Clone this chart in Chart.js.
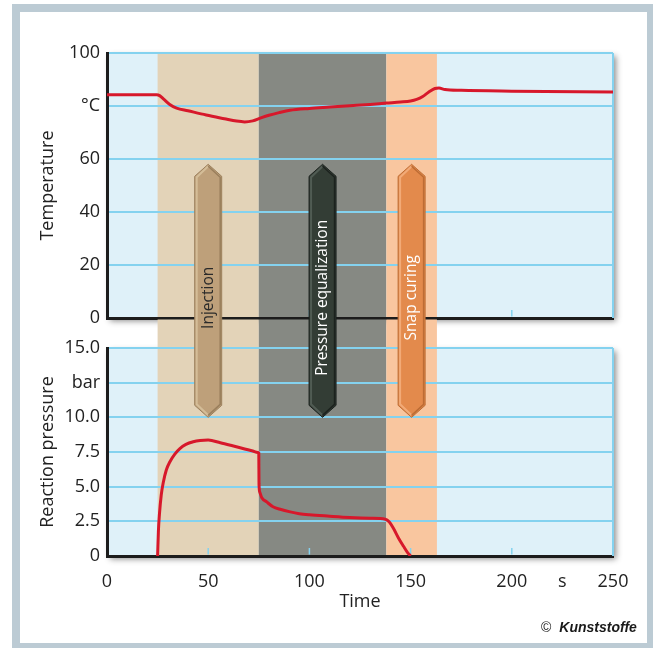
<!DOCTYPE html>
<html>
<head>
<meta charset="utf-8">
<script src="https://cdn.jsdelivr.net/npm/chart.js@4.4.1/dist/chart.umd.min.js"></script>
<style>
html,body{margin:0;padding:0;background:#fff;}
#wrap{position:relative;width:653px;height:648px;overflow:hidden;background:#fff;}
#frame{position:absolute;left:12px;top:4px;width:641px;height:644px;box-sizing:border-box;border-style:solid;border-color:#bccbd4;border-width:8px 6px 5px 8px;}
canvas{position:absolute;left:0;top:0;}
#copy{position:absolute;left:541px;top:618px;font-family:'Liberation Sans',Arial,sans-serif;font-size:14px;line-height:18px;color:#1a1a1a;white-space:nowrap;}
#copy b{font-style:italic;font-weight:bold;margin-left:8px;}
</style>
</head>
<body>
<div id="wrap">
  <div id="frame"></div>
  <canvas id="cA" width="653" height="648" style="width:653px;height:648px"></canvas>
  <canvas id="cB" width="653" height="648" style="width:653px;height:648px"></canvas>
  <div id="copy">©<b>Kunststoffe</b></div>
</div>
<script>
// ---------- data ----------
const timeTicks = [0, 50, 100, 150, 200, 225, 250];
const timeTickLabels = ['0', '50', '100', '150', '200', 's', '250'];
const tickMarkTimes = [50, 100, 150, 200];

const tempTicks = [0, 20, 40, 60, 80, 100];
const tempTickLabels = ['0', '20', '40', '60', '°C', '100'];

const pressTicks = [0, 2.5, 5, 7.5, 10, 12.5, 15];
const pressTickLabels = ['0', '2.5', '5.0', '7.5', '10.0', 'bar', '15.0'];

const tempTime = [0, 24.5, 26, 28, 31, 34.4, 40, 49, 58, 64, 68, 72, 76, 80, 85, 90.4, 100, 110, 120, 130, 138, 145, 150, 153, 156, 159, 162, 164, 167, 175, 200, 250];
const tempValues = [84.2, 84.2, 83.9, 82.6, 80.6, 79.2, 78.2, 76.6, 75.2, 74.3, 74.0, 74.4, 75.5, 76.5, 77.5, 78.4, 79.1, 79.6, 80.1, 80.6, 81.1, 81.5, 81.9, 82.5, 83.6, 85.3, 86.6, 86.8, 86.2, 85.9, 85.6, 85.3];

const pressTime = [25, 25.4, 25.9, 26.8, 27.8, 29.3, 31.1, 33.5, 36, 39, 42.6, 46, 50, 56, 62, 68, 72, 74.5, 75, 75.1, 75.5, 76.5, 78.9, 82, 86, 90, 95, 100, 110, 120, 130, 137.5, 139.5, 141.5, 144, 146.5, 148.5, 150];
const pressValues = [0, 1.8, 3.0, 4.4, 5.3, 6.2, 6.8, 7.35, 7.75, 8.05, 8.24, 8.33, 8.36, 8.17, 7.95, 7.72, 7.57, 7.47, 7.43, 5.2, 4.6, 4.2, 3.9, 3.55, 3.35, 3.2, 3.05, 2.97, 2.87, 2.78, 2.72, 2.65, 2.45, 2.0, 1.3, 0.7, 0.25, 0];

const phaseNames = ['Injection', 'Pressure equalization', 'Snap curing'];
const phaseStart = [25, 75, 138];
const phaseEnd = [75, 138, 163];
const phaseArrowAt = [50, 106.5, 150.5];
const arrowTopTemp = 58;      // arrow tip, on temperature scale
const arrowBottomPress = 10;  // arrow tip, on pressure scale

// ---------- styles ----------
const RED = '#d7182b';
const GRID = '#84d2ef';
const AXIS = '#1c1c1c';
const TXT = '#222222';
const PLOT_BG = '#dff1f9';
const bandColors = ['#e3d3b8', '#868983', '#f9c69f'];
const arrowFill = ['#bea07a', '#333d35', '#e38a4c'];
const arrowLight = ['#d4bd98', '#505b53', '#f2aa77'];
const arrowDark = ['#9a7f5c', '#1c221e', '#bd6c34'];
const arrowText = ['#2a2a2a', '#ffffff', '#ffffff'];

Chart.defaults.font.family = '"Open Sans", "Noto Sans", sans-serif';
Chart.defaults.color = TXT;

function pairs(xs, ys) { return xs.map((x, i) => ({x: x, y: ys[i]})); }
function fixedTicks(values) { return function (scale) { scale.ticks = values.map(v => ({value: v})); }; }
function labelFor(values, labels) { return function (v) { const i = values.indexOf(v); return i < 0 ? '' : labels[i]; }; }

let chartA = null;

function panelPlugin(opts) {
  return {
    id: 'panel',
    beforeDraw(chart) {
      const ctx = chart.ctx, a = chart.chartArea, x = chart.scales.x;
      ctx.save();
      ctx.shadowColor = 'rgba(0,0,0,0.45)';
      ctx.shadowBlur = 6;
      ctx.shadowOffsetX = 3;
      ctx.shadowOffsetY = 3;
      ctx.fillStyle = PLOT_BG;
      ctx.fillRect(a.left, a.top, a.right - a.left, a.bottom - a.top);
      ctx.restore();
      const top = opts.bandTop ? opts.bandTop() : a.top;
      phaseStart.forEach((s, i) => {
        const x0 = x.getPixelForValue(s), x1 = x.getPixelForValue(phaseEnd[i]);
        ctx.fillStyle = bandColors[i];
        ctx.fillRect(x0, top, x1 - x0, a.bottom - top);
      });
    },
    beforeDatasetsDraw(chart) {
      const ctx = chart.ctx, a = chart.chartArea, x = chart.scales.x;
      ctx.save();
      ctx.strokeStyle = GRID;
      ctx.lineWidth = 2;
      ctx.beginPath();
      ctx.moveTo(a.right, a.top);
      ctx.lineTo(a.right, a.bottom);
      ctx.stroke();
      ctx.lineWidth = 1.5;
      tickMarkTimes.forEach(v => {
        const px = x.getPixelForValue(v);
        ctx.beginPath();
        ctx.moveTo(px, a.bottom - 1.5);
        ctx.lineTo(px, a.bottom - 8);
        ctx.stroke();
      });
      ctx.restore();
    },
    afterDraw(chart) { if (opts.after) opts.after(chart); }
  };
}

function drawArrows(chart) {
  const ctx = chart.ctx, x = chart.scales.x;
  const top = chartA.scales.y.getPixelForValue(arrowTopTemp);
  const bottom = chart.scales.y.getPixelForValue(arrowBottomPress);
  const w = 27, tip = 12;
  phaseNames.forEach((name, i) => {
    const cx = x.getPixelForValue(phaseArrowAt[i]);
    const l = cx - w / 2, r = cx + w / 2;
    ctx.save();
    ctx.beginPath();
    ctx.moveTo(cx, top);
    ctx.lineTo(r, top + tip);
    ctx.lineTo(r, bottom - tip);
    ctx.lineTo(cx, bottom);
    ctx.lineTo(l, bottom - tip);
    ctx.lineTo(l, top + tip);
    ctx.closePath();
    ctx.fillStyle = arrowFill[i];
    ctx.fill();
    ctx.lineWidth = 1;
    ctx.strokeStyle = arrowDark[i];
    ctx.stroke();
    // light left edge
    ctx.beginPath();
    ctx.moveTo(cx, top + 2);
    ctx.lineTo(l + 2, top + tip + 1);
    ctx.lineTo(l + 2, bottom - tip - 1);
    ctx.lineTo(cx, bottom - 2);
    ctx.lineWidth = 2;
    ctx.strokeStyle = arrowLight[i];
    ctx.stroke();
    // dark right edge
    ctx.beginPath();
    ctx.moveTo(cx, top + 2);
    ctx.lineTo(r - 1.5, top + tip + 1);
    ctx.lineTo(r - 1.5, bottom - tip - 1);
    ctx.lineTo(cx, bottom - 2);
    ctx.lineWidth = 1.5;
    ctx.strokeStyle = arrowDark[i];
    ctx.stroke();
    // label
    ctx.translate(cx, (top + bottom) / 2 + 7);
    ctx.rotate(-Math.PI / 2);
    ctx.font = '15.5px "Open Sans", "Noto Sans", sans-serif';
    ctx.fillStyle = arrowText[i];
    ctx.textAlign = 'center';
    ctx.textBaseline = 'middle';
    ctx.fillText(name, 0, 0);
    ctx.restore();
  });
}

const lineStyle = {borderColor: RED, borderWidth: 3, pointRadius: 0, fill: false, cubicInterpolationMode: 'monotone'};

chartA = new Chart(document.getElementById('cA'), {
  type: 'line',
  data: {datasets: [Object.assign({label: 'Temperature', data: pairs(tempTime, tempValues)}, lineStyle)]},
  options: {
    responsive: false, animation: false, devicePixelRatio: 1, events: [],
    layout: {padding: {left: 34, right: 40, top: 53, bottom: 330}},
    plugins: {legend: {display: false}, tooltip: {enabled: false}},
    scales: {
      x: {
        type: 'linear', min: 0, max: 250,
        afterBuildTicks: fixedTicks(timeTicks),
        afterFit: s => { s.height = 0; },
        ticks: {display: false},
        grid: {display: false},
        border: {display: true, color: AXIS, width: 3}
      },
      y: {
        type: 'linear', min: 0, max: 100,
        afterBuildTicks: fixedTicks(tempTicks),
        afterFit: s => { s.width = 73; },
        ticks: {callback: labelFor(tempTicks, tempTickLabels), padding: 7, color: TXT, font: {size: 18}, autoSkip: false},
        grid: {color: GRID, lineWidth: 2, drawTicks: false},
        border: {color: AXIS, width: 3},
        title: {display: true, text: 'Temperature', color: TXT, font: {size: 18}, padding: {top: 3, bottom: 0}}
      }
    }
  },
  plugins: [panelPlugin({})]
});

const chartB = new Chart(document.getElementById('cB'), {
  type: 'line',
  data: {datasets: [Object.assign({label: 'Reaction pressure', data: pairs(pressTime, pressValues)}, lineStyle)]},
  options: {
    responsive: false, animation: false, devicePixelRatio: 1, events: [],
    layout: {padding: {left: 34, right: 40, top: 348, bottom: 32}},
    plugins: {legend: {display: false}, tooltip: {enabled: false}},
    scales: {
      x: {
        type: 'linear', min: 0, max: 250,
        afterBuildTicks: fixedTicks(timeTicks),
        afterFit: s => { s.height = 60; },
        ticks: {callback: labelFor(timeTicks, timeTickLabels), padding: 7, color: TXT, font: {size: 18}, autoSkip: false, maxRotation: 0},
        grid: {display: false},
        border: {display: true, color: AXIS, width: 3},
        title: {display: true, text: 'Time', color: TXT, font: {size: 18}, padding: {top: 0, bottom: 3}}
      },
      y: {
        type: 'linear', min: 0, max: 15,
        afterBuildTicks: fixedTicks(pressTicks),
        afterFit: s => { s.width = 73; },
        ticks: {callback: labelFor(pressTicks, pressTickLabels), padding: 7, color: TXT, font: {size: 18}, autoSkip: false},
        grid: {color: GRID, lineWidth: 2, drawTicks: false},
        border: {color: AXIS, width: 3},
        title: {display: true, text: 'Reaction pressure', color: TXT, font: {size: 18}, padding: {top: 3, bottom: 0}}
      }
    }
  },
  plugins: [panelPlugin({bandTop: () => chartA.chartArea.bottom + 1.5, after: drawArrows})]
});
</script>
</body>
</html>
